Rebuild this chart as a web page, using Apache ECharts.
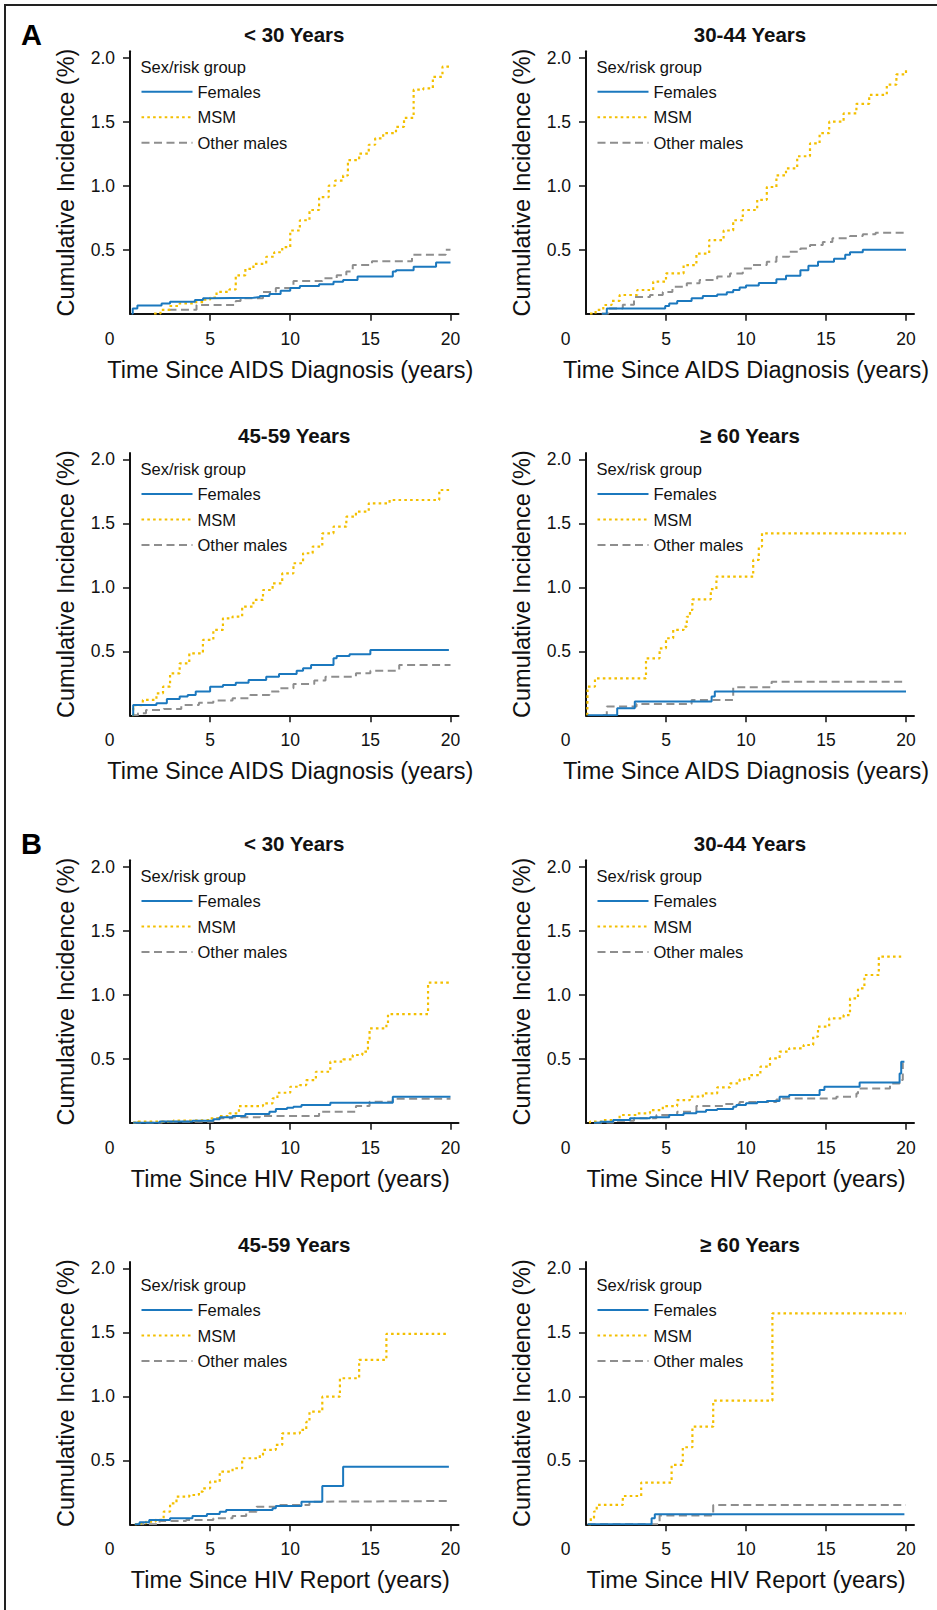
<!DOCTYPE html>
<html>
<head>
<meta charset="utf-8">
<script src="https://cdn.jsdelivr.net/npm/echarts@6/dist/echarts.min.js"></script>
<style>
html,body{margin:0;padding:0;background:#fff;}
#chart{width:937px;height:1610px;}
</style>
</head>
<body>
<div id="chart"></div>
<script>
// ---------- DATA ----------
const panelTitles = ['< 30 Years', '30-44 Years', '45-59 Years', '\u2265 60 Years', '< 30 Years', '30-44 Years', '45-59 Years', '\u2265 60 Years'];
const sectionLabels = ['A', 'B'];
const xAxisNames = ['Time Since AIDS Diagnosis (years)', 'Time Since HIV Report (years)'];
const yAxisName = 'Cumulative Incidence (%)';
const legendTitle = 'Sex/risk group';
const groupNames = ['Females', 'MSM', 'Other males'];
const xTickLabels = [0, 5, 10, 15, 20];
const yTickLabels = [0.5, 1.0, 1.5, 2.0];

// A: time since AIDS diagnosis
const aLt30Females = [[0.1,0],[0.17,0.04],[0.46,0.065],[1.97,0.08],[2.5,0.094],[4.05,0.107],[4.56,0.12],[5.0,0.125],[7.7,0.13],[8.1,0.138],[8.7,0.154],[9.4,0.18],[10.0,0.2],[10.6,0.216],[11.8,0.23],[12.7,0.25],[13.3,0.263],[14.2,0.29],[16.4,0.33],[16.6,0.34],[17.7,0.367],[19.1,0.40],[20.0,0.40]];
const aLt30MSM = [[1.5,0],[1.9,0.03],[2.5,0.06],[3.1,0.08],[4.1,0.09],[4.6,0.11],[5.0,0.125],[5.4,0.17],[6.2,0.19],[6.6,0.30],[7.2,0.35],[7.7,0.39],[8.5,0.445],[9.0,0.48],[9.5,0.52],[10.0,0.65],[10.6,0.73],[11.2,0.81],[11.8,0.91],[12.4,1.0],[12.8,1.04],[13.3,1.08],[13.6,1.2],[14.3,1.25],[14.9,1.32],[15.3,1.37],[15.8,1.41],[16.6,1.46],[17.1,1.53],[17.7,1.75],[18.3,1.76],[18.9,1.85],[19.5,1.93],[20.0,1.94]];
const aLt30Other = [[2.4,0.03],[4.15,0.068],[6.6,0.1],[6.9,0.12],[8.3,0.17],[9.1,0.2],[10.2,0.255],[12.0,0.276],[12.9,0.30],[13.5,0.33],[13.9,0.38],[15.1,0.41],[17.6,0.46],[19.7,0.5],[20.0,0.5]];

const a3044Females = [[1.0,0],[1.3,0.04],[4.95,0.06],[5.2,0.08],[5.7,0.1],[6.6,0.12],[7.3,0.138],[8.2,0.15],[8.8,0.167],[9.2,0.185],[9.6,0.205],[10.0,0.22],[10.8,0.24],[11.9,0.27],[12.5,0.297],[13.4,0.34],[13.9,0.375],[14.5,0.405],[15.5,0.43],[16.2,0.46],[16.5,0.48],[17.3,0.5],[20.0,0.5]];
const a3044MSM = [[0.25,0],[0.6,0.03],[1.08,0.068],[1.6,0.1],[2.1,0.146],[3.2,0.185],[4.2,0.25],[5.0,0.315],[6.1,0.38],[6.9,0.47],[7.7,0.575],[8.6,0.65],[9.2,0.73],[9.8,0.81],[10.7,0.89],[11.3,0.99],[11.9,1.08],[12.5,1.135],[13.2,1.23],[14.0,1.33],[14.6,1.41],[15.2,1.5],[16.1,1.565],[16.9,1.64],[17.7,1.71],[18.8,1.79],[19.4,1.87],[20.0,1.92]];
const a3044Other = [[0.98,0],[1.4,0.04],[2.3,0.07],[3.0,0.13],[4.0,0.146],[4.8,0.17],[5.4,0.21],[6.3,0.237],[7.1,0.263],[8.2,0.29],[9.0,0.315],[9.8,0.354],[10.4,0.38],[11.3,0.406],[11.9,0.445],[12.7,0.484],[13.4,0.51],[14.0,0.536],[14.8,0.56],[15.4,0.59],[16.5,0.607],[17.3,0.62],[18.1,0.633],[20.0,0.635]];

const a4559Females = [[0.15,0],[0.2,0.08],[1.65,0.094],[2.3,0.128],[3.1,0.146],[3.6,0.159],[4.1,0.185],[5.0,0.224],[5.8,0.237],[6.6,0.255],[7.4,0.276],[8.5,0.302],[9.3,0.323],[10.4,0.349],[10.8,0.367],[11.3,0.393],[12.7,0.445],[12.9,0.464],[13.7,0.477],[15.0,0.51],[19.9,0.51]];
const a4559MSM = [[0.15,0],[0.2,0.08],[0.8,0.12],[1.65,0.172],[2.06,0.224],[2.5,0.328],[3.1,0.406],[3.7,0.484],[4.55,0.589],[5.2,0.667],[5.8,0.758],[6.4,0.771],[7.0,0.849],[7.7,0.901],[8.3,0.979],[8.9,1.031],[9.5,1.109],[10.2,1.188],[10.8,1.266],[11.4,1.318],[12.0,1.422],[12.7,1.474],[13.5,1.552],[14.1,1.591],[14.9,1.656],[16.2,1.682],[19.3,1.76],[20.0,1.76]];
const a4559Other = [[0.15,0],[0.5,0.016],[1.0,0.042],[2.1,0.049],[3.2,0.08],[4.3,0.099],[5.2,0.115],[6.4,0.133],[7.5,0.159],[8.7,0.185],[9.3,0.211],[10.2,0.245],[11.5,0.271],[12.2,0.302],[14.1,0.328],[15.0,0.349],[16.8,0.393],[20.0,0.393]];

const a60Females = [[0.1,0],[1.95,0.055],[3.05,0.107],[7.85,0.146],[8.05,0.185],[20.0,0.185]];
const a60MSM = [[0.08,0],[0.1,0.224],[0.56,0.289],[3.75,0.445],[4.6,0.523],[5.0,0.602],[5.45,0.667],[6.1,0.693],[6.3,0.77],[6.5,0.823],[6.65,0.906],[7.8,0.985],[8.15,1.083],[10.45,1.214],[10.8,1.318],[11.0,1.422],[20.0,1.422]];
const a60Other = [[1.05,0],[1.3,0.068],[3.16,0.089],[6.6,0.12],[9.2,0.219],[11.6,0.263],[20.0,0.263]];

// B: time since HIV report
const b30Females = [[0.2,0],[1.85,0.01],[3.9,0.016],[5.2,0.026],[5.6,0.042],[6.4,0.052],[7.2,0.068],[8.7,0.086],[9.1,0.107],[9.8,0.117],[10.2,0.125],[10.7,0.138],[12.5,0.156],[16.4,0.203],[20.0,0.203]];
const b30MSM = [[0.2,0],[0.5,0.008],[2.7,0.016],[3.9,0.021],[5.0,0.034],[5.6,0.052],[6.2,0.073],[6.8,0.13],[8.3,0.151],[8.9,0.19],[9.2,0.234],[10.0,0.281],[10.6,0.294],[11.0,0.333],[11.6,0.398],[12.5,0.477],[13.3,0.495],[13.9,0.529],[14.5,0.555],[14.85,0.646],[14.95,0.737],[16.0,0.776],[16.1,0.849],[18.6,1.094],[20.0,1.094]];
const b30Other = [[0.2,0],[2.0,0.008],[5.2,0.034],[6.4,0.042],[8.1,0.052],[11.8,0.086],[14.1,0.13],[14.95,0.164],[16.4,0.188],[20.0,0.188]];

const b3044Females = [[0.5,0],[0.9,0.008],[1.7,0.021],[2.75,0.034],[4.0,0.042],[5.2,0.06],[6.1,0.073],[6.9,0.086],[7.5,0.099],[8.2,0.107],[9.2,0.125],[9.4,0.138],[10.0,0.151],[10.7,0.161],[11.3,0.169],[12.1,0.203],[12.7,0.216],[14.6,0.255],[14.9,0.281],[17.1,0.315],[19.6,0.385],[19.7,0.477],[19.9,0.477]];
const b3044MSM = [[0.2,0],[0.25,0.008],[1.08,0.021],[2.1,0.06],[3.2,0.073],[4.0,0.099],[4.8,0.13],[5.7,0.177],[6.5,0.203],[7.3,0.229],[8.2,0.276],[9.0,0.307],[9.6,0.339],[10.2,0.372],[10.9,0.438],[11.5,0.503],[12.1,0.555],[12.7,0.581],[13.6,0.607],[14.2,0.672],[14.5,0.75],[15.2,0.815],[16.1,0.841],[16.5,0.971],[17.0,1.049],[17.4,1.154],[18.3,1.297],[19.7,1.297]];
const b3044Other = [[0.5,0],[1.7,0.016],[3.0,0.034],[4.4,0.06],[5.7,0.086],[6.9,0.13],[8.6,0.146],[9.6,0.161],[11.9,0.182],[12.1,0.19],[15.65,0.203],[16.9,0.229],[17.0,0.268],[19.0,0.307],[19.6,0.333],[19.8,0.464],[19.85,0.464]];

const b4559Females = [[0.3,0],[0.6,0.016],[1.2,0.034],[2.5,0.047],[3.9,0.065],[4.8,0.081],[5.6,0.099],[6.0,0.112],[8.9,0.125],[9.1,0.143],[10.7,0.177],[12.0,0.3],[13.3,0.45],[19.9,0.45]];
const b4559MSM = [[0.3,0],[0.4,0.008],[1.0,0.021],[1.6,0.034],[2.1,0.099],[2.5,0.164],[2.9,0.216],[3.7,0.229],[4.3,0.255],[4.55,0.281],[5.0,0.333],[5.6,0.411],[6.4,0.438],[7.0,0.516],[8.1,0.542],[8.3,0.581],[9.1,0.62],[9.5,0.711],[10.6,0.737],[11.0,0.8],[11.2,0.88],[12.0,0.997],[13.1,1.141],[14.3,1.284],[16.0,1.487],[19.8,1.487]];
const b4559Other = [[0.4,0],[1.85,0.026],[3.5,0.034],[5.2,0.047],[6.4,0.065],[7.25,0.099],[7.9,0.138],[9.3,0.151],[11.2,0.177],[12.2,0.182],[19.9,0.182]];

const b60Females = [[0.1,0],[4.1,0.047],[4.3,0.078],[19.9,0.078]];
const b60MSM = [[0.15,0],[0.3,0.05],[0.5,0.1],[0.67,0.151],[2.3,0.221],[3.45,0.326],[5.35,0.464],[6.05,0.602],[6.65,0.763],[7.95,0.966],[11.65,1.648],[20.0,1.648]];
const b60Other = [[0.1,0],[4.6,0.068],[7.95,0.151],[20.0,0.151]];

const panelSeries = [
  [aLt30Females, aLt30MSM, aLt30Other],
  [a3044Females, a3044MSM, a3044Other],
  [a4559Females, a4559MSM, a4559Other],
  [a60Females, a60MSM, a60Other],
  [b30Females, b30MSM, b30Other],
  [b3044Females, b3044MSM, b3044Other],
  [b4559Females, b4559MSM, b4559Other],
  [b60Females, b60MSM, b60Other]
];

// ---------- LAYOUT / STYLE ----------
const FONT = '"Liberation Sans", Arial, Helvetica, sans-serif';
const INK = '#111111';
const colLeft = [130, 586];
const colWidth = [328.5, 328];
const rowTop = [51.3, 452.9, 860.3, 1261.9];
const gridH = 262.4;
const headerDy = [15.4, 16.1, 15.7, 23.1];
const seriesStyles = [
  {color: '#1b78be', type: 'solid', width: 2},
  {color: '#f3bf00', type: [2.6, 3.2], width: 2.2},
  {color: '#8e8e8e', type: [8, 4.5], width: 2}
];

const grids = [], xAxes = [], yAxes = [], series = [], legends = [], graphics = [];

for (let i = 0; i < 8; i++) {
  const col = i % 2, row = Math.floor(i / 2);
  const left = colLeft[col], top = rowTop[row], w = colWidth[col];
  grids.push({left: left, top: top, width: w, height: gridH, containLabel: false});
  xAxes.push({
    type: 'value', gridIndex: i, min: 0, max: 20.5,
    name: xAxisNames[row < 2 ? 0 : 1], nameLocation: 'middle', nameGap: 44,
    nameTextStyle: {fontSize: 23.5, color: INK, fontFamily: FONT, padding: [0, 8, 0, 0]},
    axisLine: {show: true, lineStyle: {color: INK, width: 2}},
    axisTick: {show: true, inside: false, length: 7, customValues: xTickLabels.filter(v => v > 0), lineStyle: {color: INK, width: 1.5}},
    axisLabel: {
      show: true, customValues: xTickLabels, margin: 16, fontSize: 17.5, color: INK, fontFamily: FONT,
      formatter: v => v === 0 ? '{z|0}' : String(v),
      rich: {z: {fontSize: 17.5, color: INK, fontFamily: FONT, padding: [0, 41, 0, 0]}}
    },
    splitLine: {show: false}
  });
  yAxes.push({
    type: 'value', gridIndex: i, min: 0, max: 2.05,
    name: yAxisName, nameLocation: 'middle', nameGap: 52, nameRotate: 90,
    nameTextStyle: {fontSize: 23.5, color: INK, fontFamily: FONT},
    axisLine: {show: true, lineStyle: {color: INK, width: 2}},
    axisTick: {show: true, inside: false, length: 7, customValues: yTickLabels, lineStyle: {color: INK, width: 1.5}},
    axisLabel: {show: true, customValues: yTickLabels, margin: 15, fontSize: 17.5, color: INK, fontFamily: FONT,
      formatter: v => v.toFixed(1)},
    splitLine: {show: false}
  });
  panelSeries[i].forEach((data, k) => {
    const st = seriesStyles[k];
    series.push({
      type: 'line', name: groupNames[k], xAxisIndex: i, yAxisIndex: i,
      step: 'end', symbol: 'none', showSymbol: false, data: data,
      color: st.color, silent: true, animation: false, z: 3 - k,
      lineStyle: {color: st.color, width: st.width, type: st.type, cap: 'butt'}
    });
  });
  const hy = top + headerDy[row];
  legends.push({
    orient: 'vertical', left: left + 10.5, top: hy + 25 - 10, padding: 0,
    itemWidth: 51, itemHeight: 14, itemGap: 5.5, selectedMode: false,
    itemStyle: {opacity: 0, borderWidth: 0},
    textStyle: {fontSize: 16.5, lineHeight: 20, color: INK, fontFamily: FONT},
    data: groupNames
  });
  graphics.push({
    type: 'text', x: left + 10.5, y: hy, silent: true,
    style: {text: legendTitle, fill: INK, font: '16.5px ' + FONT, align: 'left', verticalAlign: 'middle'}
  });
  graphics.push({
    type: 'text', x: left + w / 2, y: top - 17, silent: true,
    style: {text: panelTitles[i], fill: INK, font: 'bold 20.5px ' + FONT, align: 'center', verticalAlign: 'middle'}
  });
}

graphics.push({type: 'text', x: 21, y: 35, silent: true,
  style: {text: sectionLabels[0], fill: '#000', font: 'bold 29px ' + FONT, align: 'left', verticalAlign: 'middle'}});
graphics.push({type: 'text', x: 21, y: 844, silent: true,
  style: {text: sectionLabels[1], fill: '#000', font: 'bold 29px ' + FONT, align: 'left', verticalAlign: 'middle'}});
graphics.push({type: 'polyline', silent: true,
  shape: {points: [[5, 1610], [5, 5], [937, 5]]},
  style: {stroke: '#222', lineWidth: 2, fill: null}});

const chart = echarts.init(document.getElementById('chart'), null, {renderer: 'svg', width: 937, height: 1610});
chart.setOption({
  animation: false,
  backgroundColor: '#ffffff',
  textStyle: {fontFamily: FONT},
  grid: grids,
  xAxis: xAxes,
  yAxis: yAxes,
  legend: legends,
  series: series,
  graphic: graphics
});
</script>
</body>
</html>
